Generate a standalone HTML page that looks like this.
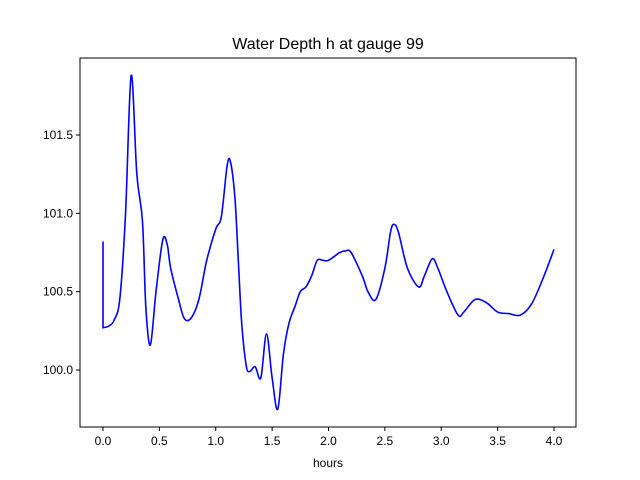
<!DOCTYPE html>
<html><head><meta charset="utf-8"><style>
body{margin:0;background:#fff;}
svg{display:block;font-family:"Liberation Sans",sans-serif;}
</style></head><body>
<svg id="chart" width="640" height="480"></svg>
<script>
const hours=[0,0,0.05,0.1,0.15,0.2,0.25,0.3,0.35,0.38,0.42,0.47,0.53,0.57,0.6,0.67,0.72,0.78,0.85,0.92,1.0,1.05,1.1,1.13,1.17,1.2,1.23,1.27,1.3,1.35,1.4,1.45,1.5,1.55,1.6,1.65,1.7,1.75,1.8,1.85,1.9,1.95,2.0,2.1,2.15,2.2,2.3,2.35,2.42,2.5,2.55,2.58,2.62,2.7,2.8,2.85,2.92,2.97,3.05,3.15,3.2,3.3,3.4,3.5,3.6,3.7,3.8,3.9,4.0];
const depth=[100.82,100.27,100.28,100.32,100.46,101.0,101.88,101.25,100.95,100.4,100.16,100.5,100.83,100.8,100.65,100.45,100.33,100.33,100.45,100.7,100.9,100.98,101.3,101.33,101.1,100.7,100.3,100.03,99.99,100.02,99.95,100.23,99.95,99.75,100.1,100.3,100.4,100.5,100.53,100.6,100.7,100.7,100.7,100.75,100.76,100.75,100.6,100.5,100.45,100.65,100.88,100.93,100.88,100.65,100.53,100.6,100.71,100.65,100.5,100.35,100.37,100.45,100.43,100.37,100.36,100.35,100.42,100.58,100.77];
const xTicks=[0,0.5,1,1.5,2,2.5,3,3.5,4];
const xTickLabels=["0.0","0.5","1.0","1.5","2.0","2.5","3.0","3.5","4.0"];
const yTicks=[100,100.5,101,101.5];
const yTickLabels=["100.0","100.5","101.0","101.5"];
const L=80,R=576,T=58,B=427;
const X=v=>103+(v-0)*112.75;
const Y=v=>370-(v-100)*156.67;
const svg=document.getElementById('chart');
const NS='http://www.w3.org/2000/svg';
function mk(t,a){const e=document.createElementNS(NS,t);for(const k in a)e.setAttribute(k,a[k]);svg.appendChild(e);return e;}
const frame=mk('rect',{x:L,y:T,width:R-L,height:B-T,fill:'none',stroke:'#000','stroke-width':1});


const title=mk('text',{x:328,y:49,'text-anchor':'middle','font-size':16});
title.textContent='Water Depth h at gauge 99';


xTicks.forEach((v,i)=>{
 const t=mk('line',{x1:X(v),x2:X(v),y1:B,y2:B+4,stroke:'#000'});
 
 
 const l=mk('text',{x:X(v),y:B+18,'text-anchor':'middle','font-size':12});
 l.textContent=xTickLabels[i];
 
 
});
yTicks.forEach((v,i)=>{
 const t=mk('line',{x1:L-4,x2:L,y1:Y(v),y2:Y(v),stroke:'#000'});
 
 
 const l=mk('text',{x:L-7,y:Y(v)+4,'text-anchor':'end','font-size':12});
 l.textContent=yTickLabels[i];
 
 
});
const xl=mk('text',{x:328,y:467,'text-anchor':'middle','font-size':12});
xl.textContent='hours';


const P=hours.map((h,i)=>[X(h),Y(depth[i])]);
let d='M'+P[0][0]+','+P[0][1]+' L'+P[1][0]+','+P[1][1];
for(let i=1;i<P.length-1;i++){
 const p0=P[Math.max(1,i-1)],p1=P[i],p2=P[i+1],p3=P[Math.min(P.length-1,i+2)];
 const c1=[p1[0]+(p2[0]-p0[0])/6,p1[1]+(p2[1]-p0[1])/6];
 const c2=[p2[0]-(p3[0]-p1[0])/6,p2[1]-(p3[1]-p1[1])/6];
 d+=' C'+c1+' '+c2+' '+p2;
}
const line=mk('path',{d:d,fill:'none',stroke:'#0000ff','stroke-width':1.6});


</script>
</body></html>
